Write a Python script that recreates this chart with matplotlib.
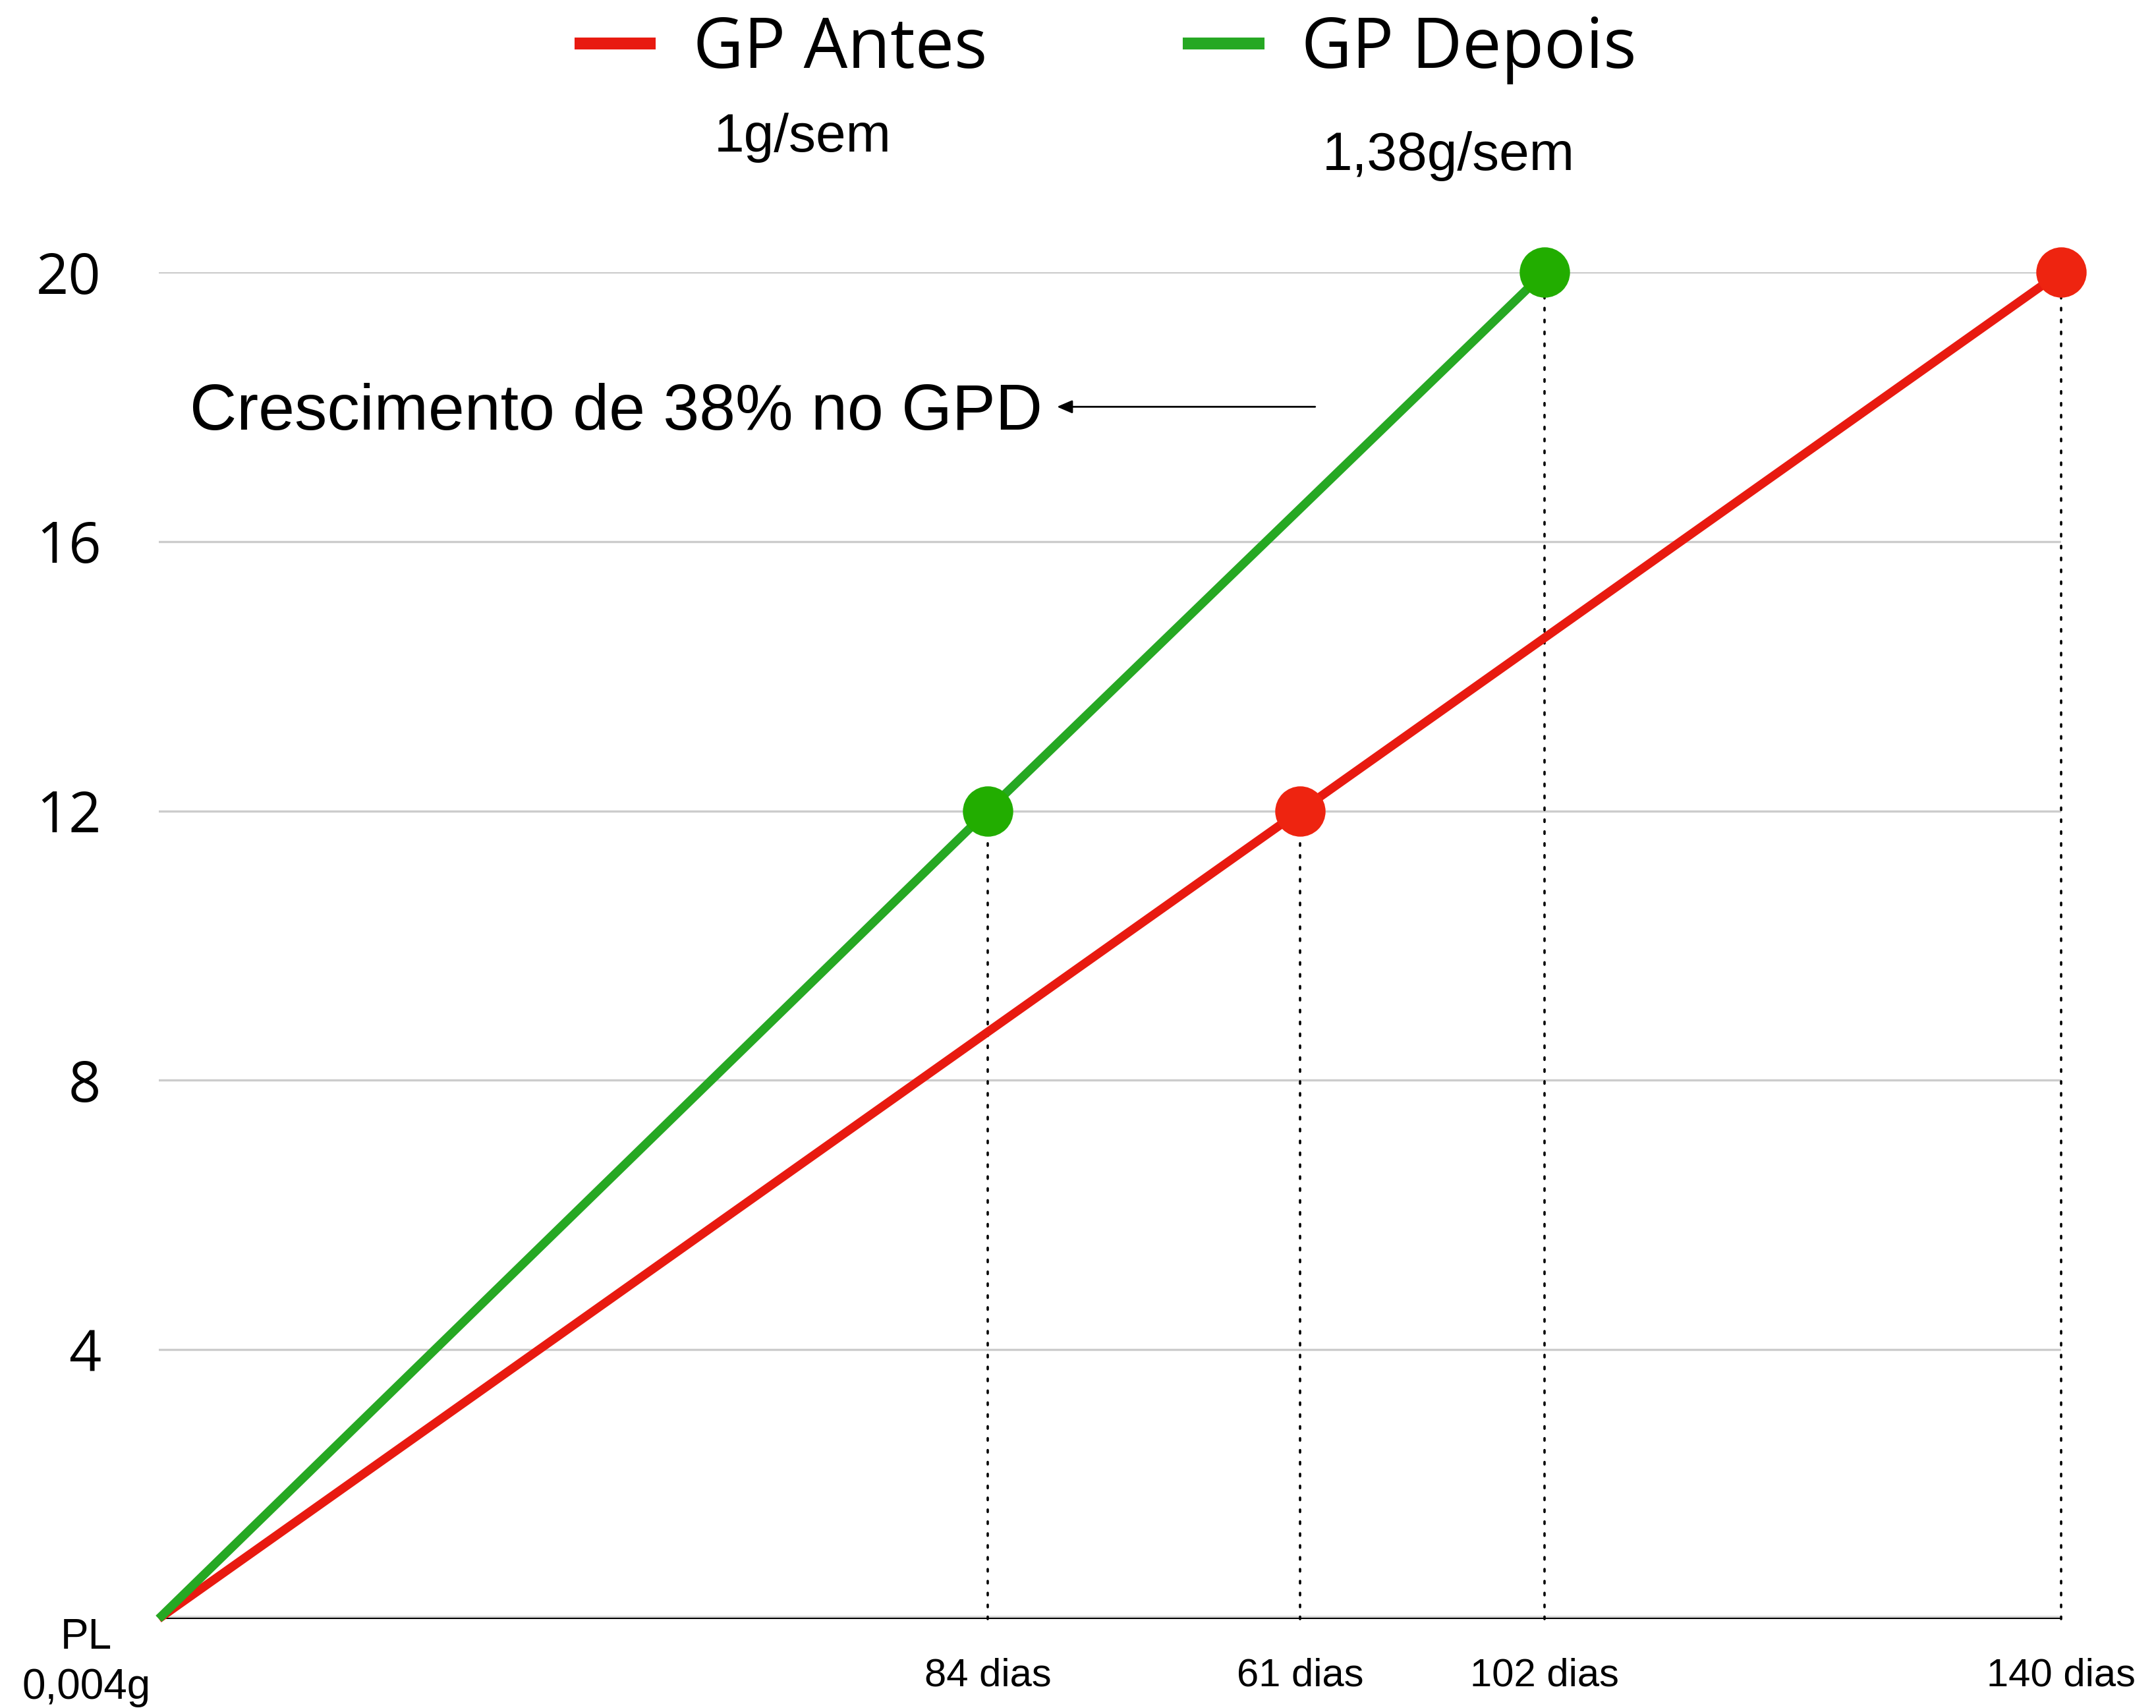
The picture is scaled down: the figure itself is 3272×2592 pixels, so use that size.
import matplotlib
matplotlib.use('Agg')
import matplotlib.pyplot as plt
from matplotlib.lines import Line2D

# dados
dias_antes = [0, 84, 140]
gp_antes = [0.004, 12, 20]
dias_depois = [0, 61, 102]
gp_depois = [0.004, 12, 20]

xticks_pos = [61, 84, 102, 140]
xticks_lab = ['84 dias', '61 dias', '102 dias', '140 dias']
yticks = [4, 8, 12, 16, 20]

cor_antes = '#e81a10'
cor_depois = '#26a823'
marc_antes = '#ee2410'
marc_depois = '#22ad00'

fig = plt.figure(figsize=(32.73, 25.92), dpi=100)
ax = fig.add_axes([0.0736, 0.0521, 0.8821, 0.7886])

ax.set_xlim(0, 140)
ax.set_ylim(0, 20)

for s in ax.spines.values():
    s.set_visible(False)

ax.set_yticks(yticks)
ax.set_yticklabels([str(v) for v in yticks], family='Open Sans', fontsize=62)
ax.yaxis.grid(True, color='#cccccc', lw=2.4)
ax.set_axisbelow(True)
ax.tick_params(axis='y', length=0, pad=63)

ax.set_xticks(xticks_pos)
ax.set_xticklabels(xticks_lab, family='Liberation Sans', fontsize=43)
ax.tick_params(axis='x', length=0, pad=42)

# eixo x
ax.axhline(0, color='#dddddd', lw=8, zorder=1)
ax.axhline(0, color='black', lw=3, zorder=2)

# linhas pontilhadas
for x, y in zip(dias_antes[1:] + dias_depois[1:], gp_antes[1:] + gp_depois[1:]):
    ax.plot([x, x], [0, y], color='black', lw=2.6, linestyle=(0, (1, 4)),
            dash_capstyle='round', zorder=2, clip_on=False)

ax.plot(dias_antes, gp_antes, color=cor_antes, lw=9.5, zorder=3, clip_on=False,
        solid_capstyle='butt')
ax.plot(dias_depois, gp_depois, color=cor_depois, lw=9.5, zorder=3, clip_on=False,
        solid_capstyle='butt')
ax.plot(dias_antes[1:], gp_antes[1:], 'o', color=marc_antes, ms=55, mew=0,
        zorder=4, clip_on=False)
ax.plot(dias_depois[1:], gp_depois[1:], 'o', color=marc_depois, ms=55, mew=0,
        zorder=4, clip_on=False)

# textos
ax.text(47.4, 21.79, '1g/sem', ha='center', va='baseline', fontsize=59,
        family='Liberation Sans')
ax.text(94.9, 21.52, '1,38g/sem', ha='center', va='baseline', fontsize=59,
        family='Liberation Sans')
ax.text(2.3, 17.66, 'Crescimento de 38% no GPD', ha='left', va='baseline',
        fontsize=71, family='Liberation Sans')
ax.annotate('', xy=(66.1, 18.0), xytext=(85.1, 18.0),
            arrowprops=dict(arrowstyle='-|>,head_length=0.7,head_width=0.3',
                            color='black', lw=2, mutation_scale=20,
                            shrinkA=0, shrinkB=0))
ax.text(-5.33, -0.44, 'PL', ha='center', va='baseline', fontsize=46,
        family='Liberation Sans')
ax.text(-5.33, -1.18, '0,004g', ha='center', va='baseline', fontsize=46,
        family='Liberation Sans')

# legenda
handles = [Line2D([], [], color=cor_antes, lw=13),
           Line2D([], [], color=cor_depois, lw=13)]
fig.legend(handles, ['GP Antes', 'GP Depois'], loc='upper center',
           bbox_to_anchor=(0.514, 1.028), ncol=2, frameon=False,
           prop={'family': 'Open Sans', 'size': 76},
           handlelength=1.0, handletextpad=0.62, columnspacing=2.9)

fig.savefig('out.png', dpi=100, facecolor='white')
